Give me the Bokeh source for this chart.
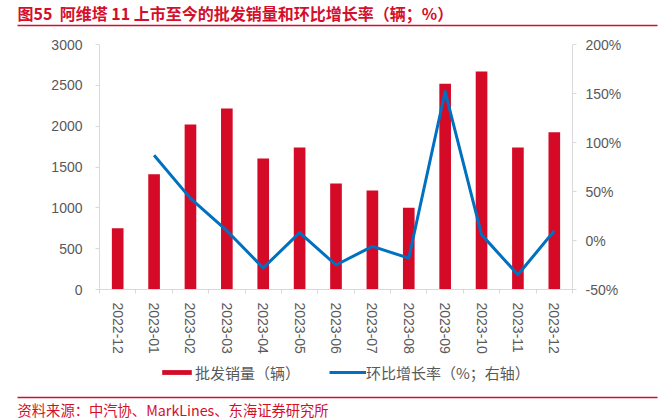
from bokeh.plotting import figure
from bokeh.models import (Range1d, LinearAxis, FixedTicker, PrintfTickFormatter,
                          Legend, LegendItem, ColumnDataSource)
from bokeh.layouts import column
from bokeh.embed import file_html
from bokeh.resources import INLINE
from bokeh.core.properties import value

# ---------------- data ----------------
months = ["2022-12", "2023-01", "2023-02", "2023-03", "2023-04", "2023-05", "2023-06",
          "2023-07", "2023-08", "2023-09", "2023-10", "2023-11", "2023-12"]
sales = [750, 1410, 2020, 2215, 1603, 1738, 1297, 1212, 1000, 2520, 2670, 1740, 1926]
mom_pct = [float("nan"), 87, 43, 10, -28, 8, -25, -6, -18, 152, 6, -35, 10]
left_ticks = [0, 500, 1000, 1500, 2000, 2500, 3000]
right_ticks = [-50, 0, 50, 100, 150, 200]

title_text = "图55\u00a0\u00a0阿维塔 11 上市至今的批发销量和环比增长率（辆；%）"
source_text = "资料来源：中汽协、MarkLines、东海证券研究所"
bar_label = "批发销量（辆）"
line_label = "环比增长率（%；右轴）"

# ---------------- style ----------------
RED = "#d40f2c"
BAR = "#d50a27"
BLUE = "#0070c0"
GRAY = "#595959"
AXIS = "#d9d9d9"
CJK = "Noto Sans CJK SC"
LAT = "Liberation Sans"
W = 666

def blank(h):
    f = figure(width=W, height=h, x_range=Range1d(0, W), y_range=Range1d(h, 0),
               output_backend="svg", toolbar_location=None, min_border=0,
               x_axis_location=None, y_axis_location=None)
    f.xgrid.visible = False
    f.ygrid.visible = False
    f.outline_line_color = None
    f.frame_align = False
    return f

# ---------------- header ----------------
top = blank(36)
top.text(x=[17], y=[12.5], text=[title_text], text_font=value(CJK), text_font_style="bold",
         text_font_size="16px", text_color=RED, text_baseline="middle", text_align="left")
top.segment(x0=[17], y0=[25], x1=[657], y1=[25], line_color=RED, line_width=1.5)

# ---------------- main chart ----------------
n = len(months)
xs = [i + 0.5 for i in range(n)]
src = ColumnDataSource(dict(x=xs, sales=sales, mom=mom_pct))

p = figure(width=W, height=324, x_range=Range1d(0, n), y_range=Range1d(0, 3000),
           output_backend="svg", toolbar_location=None,
           min_border_left=99, min_border_right=94, min_border_top=8, min_border_bottom=71)
p.frame_align = False
p.xgrid.visible = False
p.ygrid.visible = False
p.outline_line_color = None
p.extra_y_ranges = {"pct": Range1d(-50, 200)}

bars = p.vbar(x="x", top="sales", width=0.32, source=src, fill_color=BAR, line_color=None)
line = p.line(x="x", y="mom", source=src, y_range_name="pct", line_color=BLUE,
              line_width=3, line_join="round")

xa = p.xaxis[0]
xa.ticker = FixedTicker(ticks=xs, minor_ticks=list(range(n + 1)))
xa.major_label_overrides = {x: m for x, m in zip(xs, months)}
xa.major_label_orientation = "vertical"
xa.major_tick_out = 0
xa.major_tick_in = 0
xa.minor_tick_out = 4
xa.minor_tick_in = 0
xa.minor_tick_line_color = AXIS
xa.axis_line_color = AXIS
xa.major_label_standoff = 9
xa.major_label_text_font = LAT
xa.major_label_text_font_size = "14px"
xa.major_label_text_color = GRAY

ya = p.yaxis[0]
ya.ticker = FixedTicker(ticks=left_ticks, minor_ticks=[])
ya.major_tick_out = 4
ya.major_tick_in = 0
ya.minor_tick_out = 0
ya.minor_tick_in = 0
ya.major_tick_line_color = AXIS
ya.axis_line_color = AXIS
ya.major_label_standoff = 13
ya.major_label_text_font = LAT
ya.major_label_text_font_size = "14px"
ya.major_label_text_color = GRAY

ra = LinearAxis(y_range_name="pct", ticker=FixedTicker(ticks=right_ticks, minor_ticks=[]),
                formatter=PrintfTickFormatter(format="%d%%"))
ra.major_tick_out = 4
ra.major_tick_in = 0
ra.minor_tick_out = 0
ra.minor_tick_in = 0
ra.major_tick_line_color = AXIS
ra.axis_line_color = AXIS
ra.major_label_standoff = 9
ra.major_label_text_font = LAT
ra.major_label_text_font_size = "14px"
ra.major_label_text_color = GRAY
p.add_layout(ra, "right")

# ---------------- footer (legend + source) ----------------
bot = blank(58)
# legend swatch renderers (no visible data point)
lg_bar = bot.vbar(x=[float("nan")], top=[float("nan")], width=1, fill_color=BAR, line_color=None)
lg_line = bot.line(x=[float("nan")], y=[float("nan")], line_color=BLUE, line_width=3)
legend = Legend(items=[LegendItem(label=bar_label, renderers=[lg_bar]),
                       LegendItem(label=line_label, renderers=[lg_line])],
                orientation="horizontal", location=(158, 35.5),
                glyph_width=37, glyph_height=6, label_height=15, label_standoff=0,
                spacing=29, padding=0, margin=0, border_line_color=None,
                background_fill_alpha=0, label_text_font=CJK,
                label_text_font_size="15px", label_text_color=GRAY,
                label_text_baseline="middle")
bot.add_layout(legend)
bot.segment(x0=[17], y0=[37], x1=[657], y1=[37], line_color=RED, line_width=1.5)
bot.text(x=[17], y=[48.5], text=[source_text], text_font=value(CJK), text_font_size="14.3px",
         text_color=RED, text_baseline="middle", text_align="left")

layout = column(top, p, bot, spacing=0)
open("out.html", "w").write(file_html(layout, INLINE))
